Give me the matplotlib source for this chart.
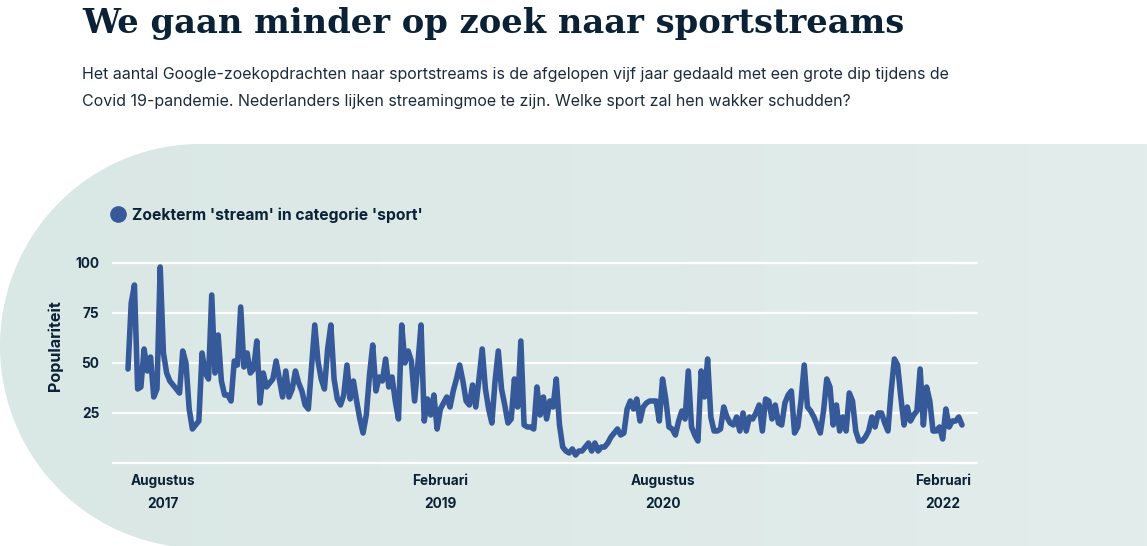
import numpy as np
import matplotlib
matplotlib.use('Agg')
import matplotlib.pyplot as plt
from matplotlib.lines import Line2D
from matplotlib.patches import Polygon
from matplotlib.colors import LinearSegmentedColormap

# weekly popularity (Google Trends, 'stream' in category 'sport')
popularity = [
    47, 80, 89, 37, 38, 57, 46, 53, 33, 37, 98, 55, 45, 41, 39, 37, 35, 56, 50, 27,
    17, 19, 21, 55, 45, 42, 84, 45, 64, 41, 34, 34, 31, 51, 49, 78, 48, 55, 45, 47,
    61, 30, 45, 38, 40, 42, 51, 42, 33, 46, 33, 37, 46, 40, 36, 29, 27, 48, 69, 51,
    42, 37, 57, 69, 42, 32, 29, 34, 49, 32, 41, 31, 22, 15, 24, 44, 59, 36, 43, 41,
    52, 38, 43, 31, 22, 69, 50, 56, 51, 31, 49, 69, 21, 32, 24, 34, 17, 27, 30, 33,
    28, 36, 42, 49, 41, 31, 29, 39, 28, 42, 57, 37, 27, 20, 41, 56, 37, 29, 20, 22,
    42, 28, 61, 19, 18, 18, 17, 38, 24, 33, 22, 31, 28, 42, 19, 8, 6, 5, 7, 4,
    6, 6, 8, 10, 6, 10, 6, 8, 8, 10, 13, 15, 17, 14, 15, 27, 31, 27, 32, 21,
    28, 30, 31, 31, 31, 21, 42, 32, 18, 17, 14, 21, 26, 22, 46, 18, 14, 11, 46, 33,
    52, 23, 16, 16, 17, 28, 23, 20, 19, 23, 16, 25, 16, 23, 22, 25, 29, 16, 32, 31,
    22, 29, 20, 19, 30, 34, 36, 15, 18, 31, 49, 28, 26, 23, 19, 15, 26, 42, 38, 19,
    29, 16, 23, 16, 35, 31, 16, 11, 11, 13, 16, 23, 18, 25, 25, 20, 16, 36, 52, 49,
    33, 19, 28, 21, 24, 26, 47, 19, 38, 31, 16, 16, 18, 12, 27, 18, 21, 21, 23, 19,
]
weeks = np.arange(len(popularity))

tick_weeks = [11, 97, 166, 253]
tick_labels = ['Augustus\n2017', 'Februari\n2019', 'Augustus\n2020', 'Februari\n2022']
y_ticks = [25, 50, 75, 100]

title = 'We gaan minder op zoek naar sportstreams'
subtitle = ('Het aantal Google-zoekopdrachten naar sportstreams is de afgelopen vijf jaar gedaald met een grote dip tijdens de\n'
            'Covid 19-pandemie. Nederlanders lijken streamingmoe te zijn. Welke sport zal hen wakker schudden?')
legend_label = "Zoekterm 'stream' in categorie 'sport'"

navy = '#0b2236'
line_blue = '#36599a'

W, H = 1147, 546
fig = plt.figure(figsize=(W / 100, H / 100), dpi=100)
fig.patch.set_facecolor('white')

# background shape, in pixel coordinates
bg = fig.add_axes([0, 0, 1, 1], zorder=-5)
bg.set_xlim(0, W)
bg.set_ylim(H, 0)
bg.axis('off')
t = np.linspace(np.pi / 2, 3 * np.pi / 2, 200)
arc = np.column_stack([200 + 200 * np.cos(t), 346 - 202 * np.sin(t)])
shape = np.vstack([arc, [[W, 548], [W, 144]]])
clip = Polygon(shape, closed=True, facecolor='none', edgecolor='none')
bg.add_patch(clip)
grad = np.linspace(0, 1, 256)[None, :]
cmap = LinearSegmentedColormap.from_list('bg', ['#d9e7e5', '#e3edeb'])
im = bg.imshow(grad, extent=[0, W, H, 140], aspect='auto', cmap=cmap, zorder=0)
im.set_clip_path(clip)

# title and subtitle
fig.text(82 / W, 1 - 7 / H, title, family='DejaVu Serif', fontweight='bold',
         fontsize=24.3, color=navy, ha='left', va='top')
fig.text(82 / W, 1 - 67 / H, subtitle, family='Inter', fontsize=11.5, color='#1c2c3c',
         ha='left', va='top', linespacing=1.98)

# main chart
ax = fig.add_axes([112 / W, 1 - 467 / H, 866 / W, 208 / H])
ax.set_facecolor('none')
ax.plot(weeks, popularity, color=line_blue, lw=4, solid_joinstyle='round',
        solid_capstyle='round', zorder=3, clip_on=False)
px_per_week = 834 / (len(popularity) - 1)
ax.set_xlim(-16 / px_per_week, len(popularity) - 1 + 16 / px_per_week)
ax.set_ylim(-2, 102)
ax.set_yticks([0] + y_ticks)
ax.set_yticklabels([''] + [str(v) for v in y_ticks])
ax.grid(axis='y', color='white', lw=1.6, zorder=1)
ax.set_axisbelow(True)
ax.set_xticks(tick_weeks)
ax.set_xticklabels(tick_labels, linespacing=1.8)
for s in ax.spines.values():
    s.set_visible(False)
ax.tick_params(axis='both', length=0, colors=navy)
ax.tick_params(axis='y', pad=9)
ax.tick_params(axis='x', pad=5)
for lab in ax.get_xticklabels() + ax.get_yticklabels():
    lab.set_family('Inter')
    lab.set_fontweight('bold')
    lab.set_fontsize(9.8)

fig.text(55 / W, 1 - 346 / H, 'Populariteit', family='Inter', fontweight='bold',
         fontsize=11.6, color=navy, rotation=90, ha='center', va='center')

handle = Line2D([], [], marker='o', linestyle='none', color=line_blue, markersize=11)
leg = ax.legend([handle], [legend_label], loc='center left',
                bbox_to_anchor=(109 / W, 1 - 215 / H), bbox_transform=fig.transFigure,
                frameon=False, borderpad=0, borderaxespad=0, handlelength=1.2,
                handletextpad=0.3, prop={'family': 'Inter', 'weight': 'bold', 'size': 11.25})
for txt in leg.get_texts():
    txt.set_color(navy)

fig.savefig('out.png', dpi=100)
